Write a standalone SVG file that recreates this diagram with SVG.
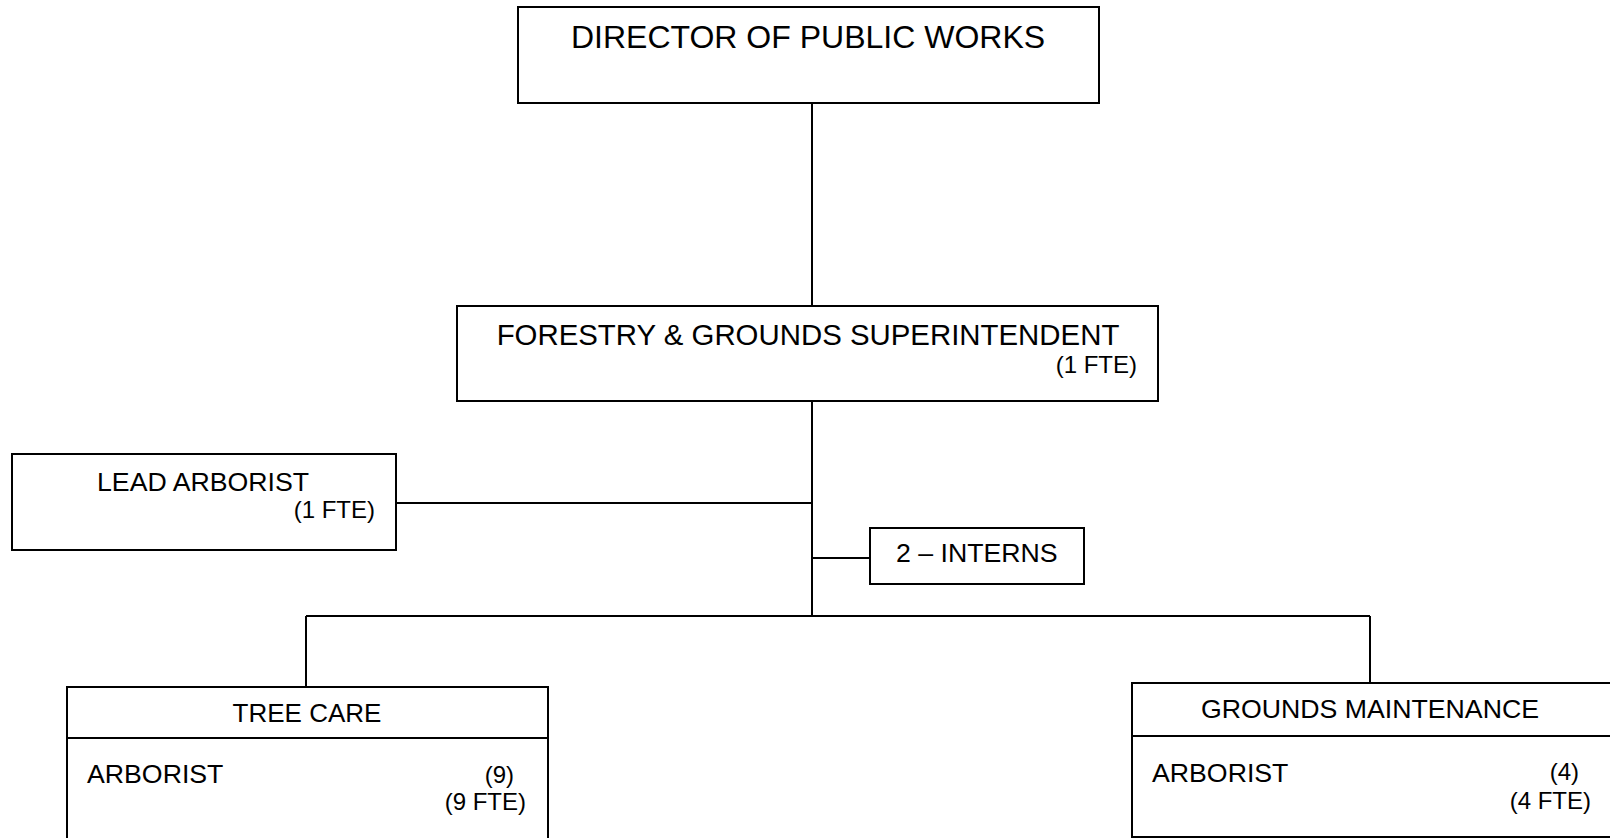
<svg xmlns="http://www.w3.org/2000/svg" width="1610" height="838" viewBox="0 0 1610 838">
  <style>
    .box { fill: #ffffff; stroke: #000000; stroke-width: 2; }
    .rule { stroke: #000000; stroke-width: 2; fill: none; }
    .wire { stroke: #000000; stroke-width: 2; fill: none; }
    text { font-family: "Liberation Sans", Arial, sans-serif; fill: #000000; }
    .t26 { font-size: 26.7px; }
    .t24 { font-size: 24px; }
    .mid { text-anchor: middle; }
    .end { text-anchor: end; }
  </style>
  <rect width="1610" height="838" fill="#ffffff"/>

  <!-- connectors -->
  <g id="connectors">
    <line class="wire" x1="812" y1="103" x2="812" y2="306"/>
    <line class="wire" x1="812" y1="401" x2="812" y2="616"/>
    <line class="wire" x1="396" y1="503" x2="812" y2="503"/>
    <line class="wire" x1="812" y1="558" x2="870" y2="558"/>
    <line class="wire" x1="306" y1="616" x2="1370" y2="616"/>
    <line class="wire" x1="306" y1="616" x2="306" y2="687"/>
    <line class="wire" x1="1370" y1="616" x2="1370" y2="683"/>
  </g>

  <g id="director">
    <rect class="box" x="518" y="7" width="581" height="96"/>
    <text x="808" y="48" class="mid" font-size="32">DIRECTOR OF PUBLIC WORKS</text>
  </g>

  <g id="superintendent">
    <rect class="box" x="457" y="306" width="701" height="95"/>
    <text x="808" y="345" class="mid" font-size="29.4">FORESTRY &amp; GROUNDS SUPERINTENDENT</text>
    <text x="1137" y="373" class="end t24">(1 FTE)</text>
  </g>

  <g id="lead-arborist">
    <rect class="box" x="12" y="454" width="384" height="96"/>
    <text x="97" y="491" class="t26">LEAD ARBORIST</text>
    <text x="375" y="518" class="end t24">(1 FTE)</text>
  </g>

  <g id="interns">
    <rect class="box" x="870" y="528" width="214" height="56"/>
    <text x="896" y="562" class="t26">2 – INTERNS</text>
  </g>

  <g id="tree-care">
    <rect class="box" x="67" y="687" width="481" height="170"/>
    <line class="rule" x1="67" y1="738" x2="548" y2="738"/>
    <text x="307" y="722" class="mid" font-size="26">TREE CARE</text>
    <text x="87" y="783" class="t26">ARBORIST</text>
    <text x="514" y="783" class="end t24">(9)</text>
    <text x="526" y="810" class="end t24">(9 FTE)</text>
  </g>

  <g id="grounds-maintenance">
    <rect class="box" x="1132" y="683" width="500" height="154"/>
    <line class="rule" x1="1132" y1="736" x2="1610" y2="736"/>
    <text x="1370" y="718" class="mid t26">GROUNDS MAINTENANCE</text>
    <text x="1152" y="782" class="t26">ARBORIST</text>
    <text x="1579" y="780" class="end t24">(4)</text>
    <text x="1591" y="809" class="end t24">(4 FTE)</text>
  </g>
</svg>
